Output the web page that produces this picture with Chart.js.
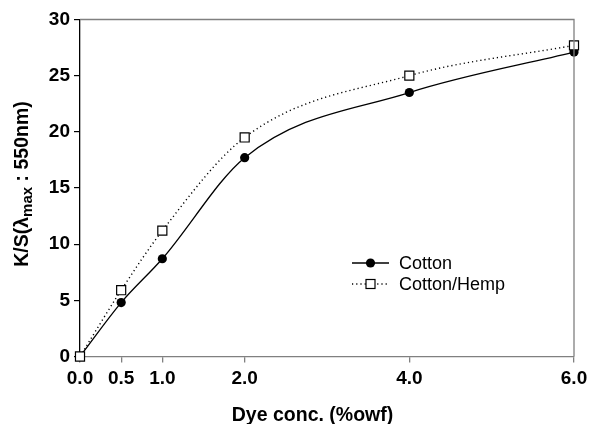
<!DOCTYPE html>
<html><head><meta charset="utf-8">
<script src="https://cdn.jsdelivr.net/npm/chart.js@4"></script>
<style>html,body{margin:0;padding:0;background:#fff}#wrap{width:589px;height:424px}</style>
</head><body><div id="wrap"><canvas id="c" width="589" height="424"></canvas></div>
<script>
const doses = [0.0, 0.5, 1.0, 2.0, 4.0, 6.0];
const cotton = [0.0, 4.8, 8.7, 17.7, 23.5, 27.1];
const cottonHemp = [0.0, 5.9, 11.2, 19.5, 25.0, 27.7];
const xTicks = [0.0, 0.5, 1.0, 2.0, 4.0, 6.0];
const yTicks = [0, 5, 10, 15, 20, 25, 30];
const seriesNames = ['Cotton', 'Cotton/Hemp'];
const xTitle = 'Dye conc. (%owf)';

const FONT = '"Liberation Sans", Arial, sans-serif';

const framePlugin = {
  id: 'frame',
  afterDraw(chart) {
    const {ctx, chartArea: a} = chart;
    ctx.save();
    // top and right borders
    ctx.strokeStyle = '#808080';
    ctx.lineWidth = 1.3;
    ctx.beginPath();
    ctx.moveTo(a.left, a.top); ctx.lineTo(a.right, a.top); ctx.lineTo(a.right, a.bottom);
    ctx.stroke();
    // x title
    ctx.fillStyle = '#000';
    ctx.font = 'bold 19.5px ' + FONT;
    ctx.textAlign = 'center';
    ctx.textBaseline = 'alphabetic';
    ctx.fillText(xTitle, 312.5, 421);
    ctx.textAlign = 'left';
    // y title with subscript
    ctx.translate(28, 184);
    ctx.rotate(-Math.PI / 2);
    const big = 'bold 19.5px ' + FONT, small = 'bold 15px ' + FONT;
    const p1 = 'K/S(λ', p2 = 'max', p3 = ' : 550nm)';
    ctx.font = big; const w1 = ctx.measureText(p1).width, w3 = ctx.measureText(p3).width;
    ctx.font = small; const w2 = ctx.measureText(p2).width;
    let x = -(w1 + w2 + w3) / 2;
    ctx.textBaseline = 'alphabetic';
    ctx.font = big; ctx.fillText(p1, x, 0); x += w1;
    ctx.font = small; ctx.fillText(p2, x, 4); x += w2;
    ctx.font = big; ctx.fillText(p3, x, 0);
    ctx.restore();
    // legend
    ctx.save();
    const items = chart.data.datasets;
    const lx = 352, ly = [263, 284];
    items.forEach((ds, i) => {
      const y = ly[i];
      ctx.strokeStyle = '#000';
      ctx.lineWidth = ds.borderWidth;
      ctx.setLineDash(ds.borderDash || []);
      ctx.beginPath(); ctx.moveTo(lx, y); ctx.lineTo(lx + 37, y); ctx.stroke();
      ctx.setLineDash([]);
      ctx.lineWidth = 1.2;
      ctx.fillStyle = ds.pointBackgroundColor;
      if (ds.pointStyle === 'rect') {
        ctx.fillRect(lx + 14, y - 4.5, 9, 9);
        ctx.strokeRect(lx + 14, y - 4.5, 9, 9);
      } else {
        ctx.beginPath(); ctx.arc(lx + 18.5, y, 4.6, 0, Math.PI * 2); ctx.fill();
      }
      ctx.fillStyle = '#000';
      ctx.font = '18px ' + FONT;
      ctx.textBaseline = 'middle';
      ctx.fillText(ds.label, 399, y + 1);
    });
    ctx.restore();
  }
};

new Chart(document.getElementById('c'), {
  type: 'line',
  data: {
    datasets: [
      {
        label: seriesNames[0],
        data: doses.map((d, i) => ({x: d, y: cotton[i]})),
        borderColor: '#000', borderWidth: 1.3,
        pointStyle: 'circle', pointRadius: 4.6, pointBackgroundColor: '#000', pointBorderColor: '#000', pointBorderWidth: 0,
        cubicInterpolationMode: 'monotone', order: 1, clip: false
      },
      {
        label: seriesNames[1],
        data: doses.map((d, i) => ({x: d, y: cottonHemp[i]})),
        borderColor: '#000', borderWidth: 1.4, borderDash: [1.2, 3],
        pointStyle: 'rect', pointRadius: 6.4, pointBackgroundColor: '#fff', pointBorderColor: '#000', pointBorderWidth: 1.2,
        cubicInterpolationMode: 'monotone', order: 0, clip: false
      }
    ]
  },
  options: {
    responsive: false, animation: false, devicePixelRatio: 1,
    layout: {padding: {left: 0, right: 15, top: 19.5, bottom: 0}},
    plugins: {legend: {display: false}, tooltip: {enabled: false}},
    scales: {
      x: {
        type: 'linear', min: 0, max: 6,
        afterBuildTicks: s => { s.ticks = xTicks.map(v => ({value: v})); },
        afterFit: s => { s.height = 67.5; s.paddingLeft = 0; s.paddingRight = 0; },
        grid: {drawOnChartArea: false, drawTicks: true, tickLength: 6, color: '#808080', lineWidth: 1.3},
        border: {color: '#808080', width: 1.3},
        ticks: {color: '#000', font: {family: FONT, size: 19, weight: 'bold'}, padding: 5, maxRotation: 0,
                callback: v => Number(v).toFixed(1)},
        title: {display: false}
      },
      y: {
        min: 0, max: 30,
        afterBuildTicks: s => { s.ticks = yTicks.map(v => ({value: v})); },
        afterFit: s => { s.width = 80; s.paddingTop = 0; s.paddingBottom = 0; },
        grid: {drawOnChartArea: false, drawTicks: true, tickLength: 6, color: '#000', lineWidth: 1.2},
        border: {color: '#000', width: 1.3},
        ticks: {color: '#000', font: {family: FONT, size: 19, weight: 'bold'}, padding: 4}
      }
    }
  },
  plugins: [framePlugin]
});
</script></body></html>
